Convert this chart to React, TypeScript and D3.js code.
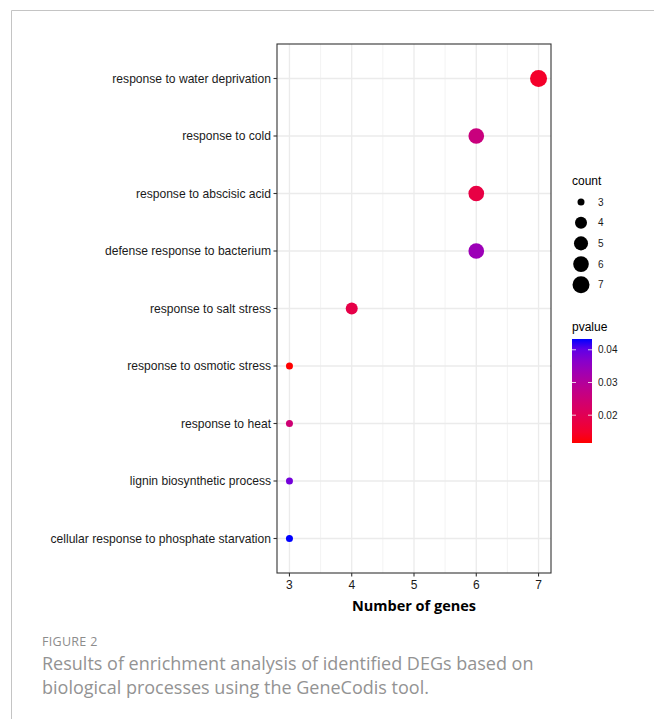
import React from "react";
import * as d3 from "d3";

const terms = [
  "response to water deprivation",
  "response to cold",
  "response to abscisic acid",
  "defense response to bacterium",
  "response to salt stress",
  "response to osmotic stress",
  "response to heat",
  "lignin biosynthetic process",
  "cellular response to phosphate starvation",
];
const geneCounts = [7, 6, 6, 6, 4, 3, 3, 3, 3];
const pvalues = [0.0147, 0.0258, 0.018, 0.0338, 0.0185, 0.0115, 0.0245, 0.0385, 0.0433];
const xTicks = [3, 4, 5, 6, 7];
const xMinor = [3.5, 4.5, 5.5, 6.5];
const countLegend = [3, 4, 5, 6, 7];
const pTicks = [0.02, 0.03, 0.04];

const W = 654;
const H = 719;
const panel = { left: 277, right: 551, top: 44, bottom: 573 };
const chartFont = "'Liberation Sans', Arial, sans-serif";

export default function App() {
  const x = d3.scaleLinear().domain([2.8, 7.2]).range([panel.left, panel.right]);
  const y = d3
    .scalePoint<string>()
    .domain(terms)
    .range([panel.top, panel.bottom])
    .padding(0.6);
  const pMin = d3.min(pvalues) as number;
  const pMax = d3.max(pvalues) as number;
  const color = d3
    .scaleLinear<string>()
    .domain([pMin, pMax])
    .range(["red", "blue"])
    .interpolate(d3.interpolateLab);
  const sizeScale = d3.scalePow().exponent(0.5).domain([0, 4]).range([1, 6]);
  const radius = (n: number) => (2 * sizeScale(n - 3) + 5) / 2;

  const barTop = 339;
  const barBottom = 443;
  const barX = 572;
  const barW = 20;
  const pY = d3.scaleLinear().domain([pMin, pMax]).range([barBottom, barTop]);
  const stops = d3.range(0, 1.0001, 0.1);

  const legendY0 = 202;
  const legendStep = 20.7;

  return (
    <svg width={W} height={H} style={{ position: "absolute", left: 0, top: 0, background: "#fff" }}>
      <defs>
        <linearGradient id="pgrad" x1="0" y1="1" x2="0" y2="0">
          {stops.map((t) => (
            <stop key={t} offset={t} stopColor={color(pMin + t * (pMax - pMin))} />
          ))}
        </linearGradient>
      </defs>
      <rect x={0} y={0} width={W} height={H} fill="#fff" />
      {/* frame */}
      <line x1={11.5} y1={10.5} x2={W} y2={10.5} stroke="#c4c4c4" strokeWidth={1} />
      <line x1={11.5} y1={10.5} x2={11.5} y2={H} stroke="#c4c4c4" strokeWidth={1} />

      {/* grid */}
      {xMinor.map((v) => (
        <line key={"mn" + v} x1={x(v)} x2={x(v)} y1={panel.top} y2={panel.bottom} stroke="#f0f0f0" strokeWidth={0.8} />
      ))}
      {xTicks.map((v) => (
        <line key={"mj" + v} x1={x(v)} x2={x(v)} y1={panel.top} y2={panel.bottom} stroke="#ebebeb" strokeWidth={1.3} />
      ))}
      {terms.map((t) => (
        <line key={"hg" + t} x1={panel.left} x2={panel.right} y1={y(t)} y2={y(t)} stroke="#ebebeb" strokeWidth={1.3} />
      ))}

      {/* points */}
      {terms.map((t, i) => (
        <circle key={"pt" + t} cx={x(geneCounts[i])} cy={y(t)} r={radius(geneCounts[i])} fill={color(pvalues[i])} />
      ))}

      <rect
        x={panel.left}
        y={panel.top}
        width={panel.right - panel.left}
        height={panel.bottom - panel.top}
        fill="none"
        stroke="#333"
        strokeWidth={1.1}
      />

      {/* y axis */}
      {terms.map((t) => (
        <g key={"yl" + t}>
          <line x1={panel.left - 3.5} x2={panel.left} y1={y(t)} y2={y(t)} stroke="#333" strokeWidth={1.1} />
          <text
            x={panel.left - 6}
            y={y(t)}
            dy="0.35em"
            textAnchor="end"
            fontFamily={chartFont}
            fontSize={12.1}
            fill="#1a1a1a"
          >
            {t}
          </text>
        </g>
      ))}

      {/* x axis */}
      {xTicks.map((v) => (
        <g key={"xt" + v}>
          <line x1={x(v)} x2={x(v)} y1={panel.bottom} y2={panel.bottom + 3.5} stroke="#333" strokeWidth={1.1} />
          <text x={x(v)} y={panel.bottom + 16} textAnchor="middle" fontFamily={chartFont} fontSize={12} fill="#1a1a1a">
            {v}
          </text>
        </g>
      ))}
      <text
        x={(panel.left + panel.right) / 2}
        y={611}
        textAnchor="middle"
        fontFamily="'Open Sans', sans-serif"
        fontWeight="bold"
        fontSize={14.5}
        fill="#000"
      >
        Number of genes
      </text>

      {/* count legend */}
      <text x={572} y={185} fontFamily={chartFont} fontSize={12} fill="#000">
        count
      </text>
      {countLegend.map((n, i) => (
        <g key={"cl" + n}>
          <circle cx={581} cy={legendY0 + i * legendStep} r={radius(n)} fill="#000" />
          <text x={598} y={legendY0 + i * legendStep} dy="0.35em" fontFamily={chartFont} fontSize={10} fill="#1a1a1a">
            {n}
          </text>
        </g>
      ))}

      {/* pvalue legend */}
      <text x={572} y={331} fontFamily={chartFont} fontSize={12} fill="#000">
        pvalue
      </text>
      <rect x={barX} y={barTop} width={barW} height={barBottom - barTop} fill="url(#pgrad)" />
      {pTicks.map((p) => (
        <g key={"pt" + p}>
          <line x1={barX} x2={barX + 4} y1={pY(p)} y2={pY(p)} stroke="#fff" strokeWidth={0.8} />
          <line x1={barX + barW - 4} x2={barX + barW} y1={pY(p)} y2={pY(p)} stroke="#fff" strokeWidth={0.8} />
          <text x={598} y={pY(p)} dy="0.35em" fontFamily={chartFont} fontSize={10} fill="#1a1a1a">
            {p.toFixed(2)}
          </text>
        </g>
      ))}

      {/* caption */}
      <text x={42} y={646} fontFamily="'Open Sans', sans-serif" fontSize={12.5} fill="#8c8c8c" letterSpacing={0.3}>
        FIGURE 2
      </text>
      <text x={42} y={670} fontFamily="'Open Sans', sans-serif" fontSize={18} fill="#939393">
        Results of enrichment analysis of identified DEGs based on
      </text>
      <text x={42} y={694} fontFamily="'Open Sans', sans-serif" fontSize={18} fill="#939393">
        biological processes using the GeneCodis tool.
      </text>
    </svg>
  );
}
